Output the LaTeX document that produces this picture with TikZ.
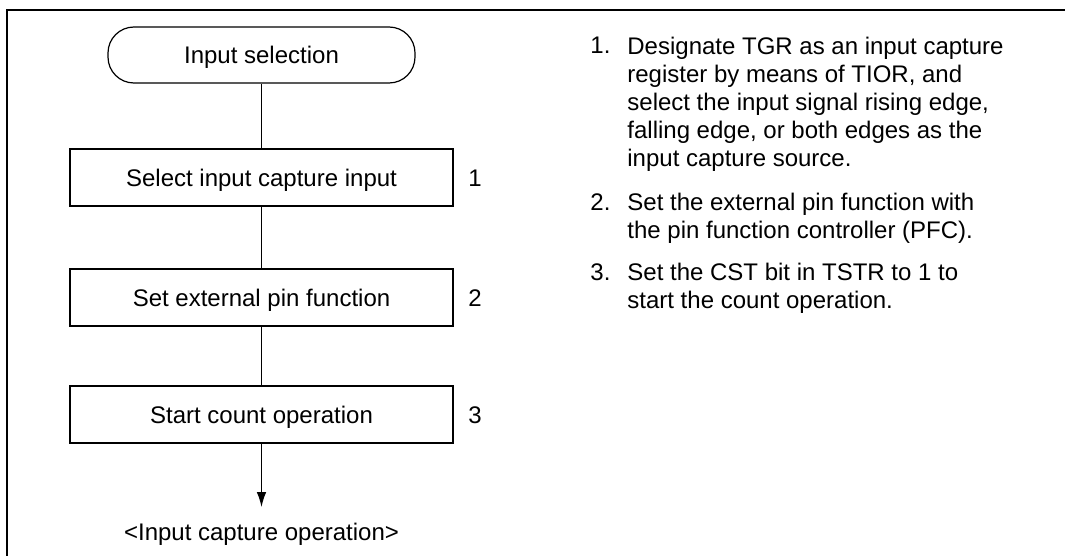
\documentclass[tikz,border=0pt]{standalone}
\usepackage{fontspec}
\setmainfont{Liberation Sans}
\usetikzlibrary{arrows.meta}

\begin{document}
\begin{tikzpicture}[x=0.5pt,y=-0.5pt,font=\fontsize{12}{14}\selectfont,
  term/.style={draw,line width=0.6pt,rounded corners=13pt,minimum width=153.5pt,
    minimum height=28pt,inner sep=0pt,text height=8.6pt,text depth=0pt},
  stepbox/.style={draw,line width=0.6pt,minimum width=191.5pt,minimum height=28.5pt,
    inner sep=0pt,text height=8.6pt,text depth=0pt},
  nr/.style={inner sep=0pt,text height=8.6pt,text depth=0pt},
  note/.style={anchor=north west,align=left,inner sep=0pt},
  flow/.style={line width=0.6pt}]
  \useasboundingbox (0,0) rectangle (1065,556);
  % frame, right and bottom edges run off the page
  \draw[line width=1.2pt] (1070,10) -- (7,10) -- (7,560);
  % flow chart
  \node[term] (start) at (261.5,55) {Input selection};
  \node[stepbox] (sel) at (261.5,177.5) {Select input capture input};
  \node[stepbox] (pin) at (261.5,297.5) {Set external pin function};
  \node[stepbox] (cnt) at (261.5,414.5) {Start count operation};
  \node[nr] (n1) at (475,177.5) {1};
  \node[nr] (n2) at (475,297.5) {2};
  \node[nr] (n3) at (475,414.5) {3};
  \coordinate (tip) at (261.5,507);
  \node[anchor=base,inner sep=0pt] (done) at (261.5,540.5) {<Input capture operation>};
  \draw[flow] (start) -- (sel);
  \draw[flow] (sel) -- (pin);
  \draw[flow] (pin) -- (cnt);
  \draw[flow,-{Latex[length=7.5pt,width=4.8pt]}] (cnt) -- (tip);
  % notes on the right
  \node[note] (d1) at (590,37) {1.};
  \node[note] (t1) at (627,37) {Designate TGR as an input capture\\
    register by means of TIOR, and\\
    select the input signal rising edge,\\
    falling edge, or both edges as the\\
    input capture source.};
  \node[note] (d2) at (590,193) {2.};
  \node[note] (t2) at (627,193) {Set the external pin function with\\
    the pin function controller (PFC).};
  \node[note] (d3) at (590,263) {3.};
  \node[note] (t3) at (627,263) {Set the CST bit in TSTR to 1 to\\
    start the count operation.};
\end{tikzpicture}
\end{document}
